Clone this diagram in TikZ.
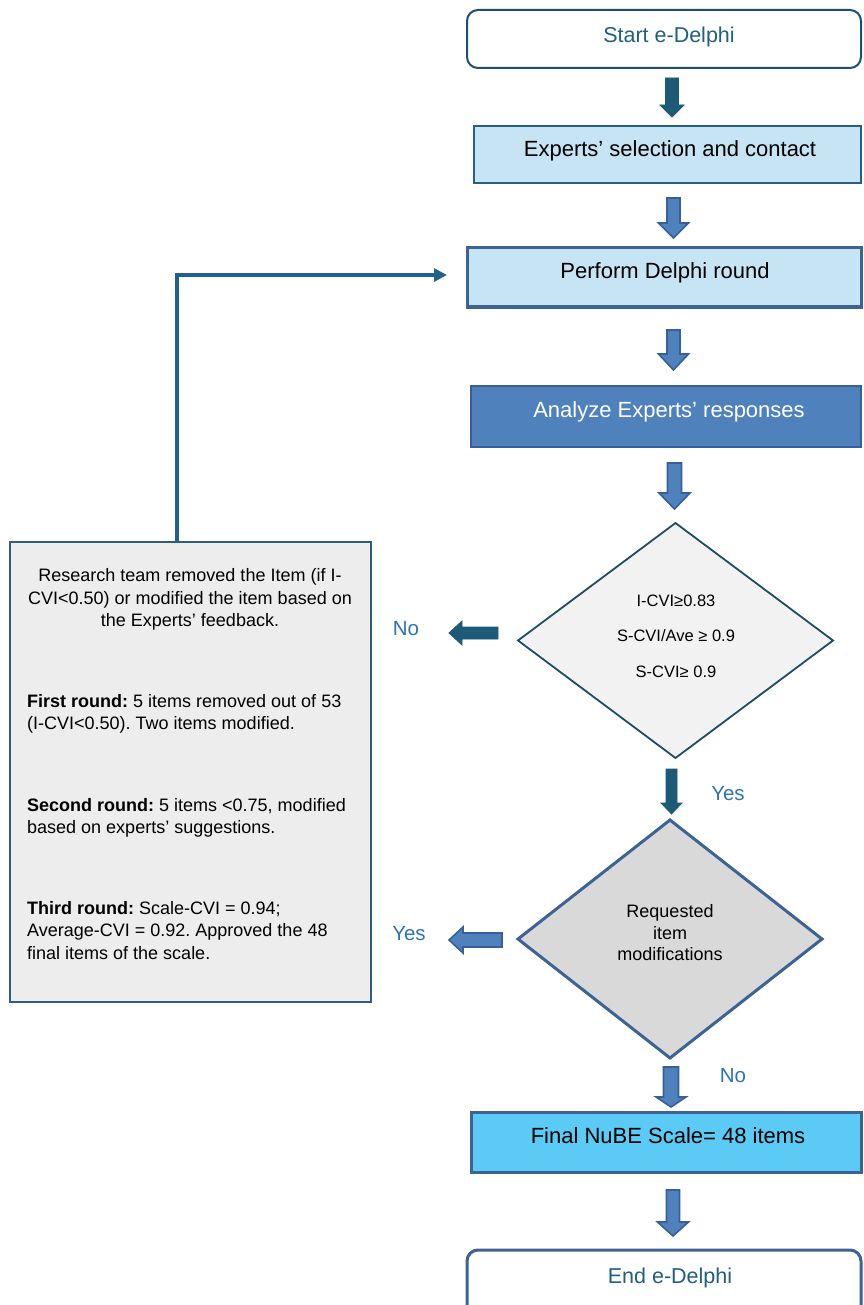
\documentclass[tikz,border=0pt]{standalone}
\usepackage{fontspec}
\setmainfont{Liberation Sans}
\usetikzlibrary{arrows.meta}
\definecolor{cTeal}{HTML}{1D5A78}
\definecolor{cTealLine}{HTML}{1F6388}
\definecolor{cBlueFill}{HTML}{4F81BD}
\definecolor{cBlueEdge}{HTML}{37609A}
\definecolor{cLightFill}{HTML}{C6E4F4}
\definecolor{cCyanFill}{HTML}{5BCBF5}
\definecolor{cStartEdge}{HTML}{1F4F6A}
\definecolor{cExpEdge}{HTML}{2B5D7C}
\definecolor{cPerfEdge}{HTML}{3C6393}
\definecolor{cLabel}{HTML}{2E74B5}
\definecolor{cStartText}{HTML}{1F5F7F}
\definecolor{cDiaOneFill}{HTML}{F2F2F2}
\definecolor{cDiaOneEdge}{HTML}{1E4D63}
\definecolor{cDiaTwoFill}{HTML}{D9D9D9}
\definecolor{cLeftFill}{HTML}{EDEDED}
\definecolor{cLeftEdge}{HTML}{2F5E78}

\newcommand\blkdown[7]{\draw[#7] (#1-#5,#2) -- (#1+#5,#2) -- (#1+#5,#3) -- (#1+#6,#3) -- (#1,#4) -- (#1-#6,#3) -- (#1-#5,#3) -- cycle;}
\newcommand\blkleft[7]{\draw[#7] (#2,#1-#5) -- (#2,#1+#5) -- (#3,#1+#5) -- (#3,#1+#6) -- (#4,#1) -- (#3,#1-#6) -- (#3,#1-#5) -- cycle;}
\frenchspacing

\begin{document}
\begin{tikzpicture}[x=1pt,y=-1pt,
  txt/.style={inner sep=0pt, anchor=base},
  boxtext/.style={txt, font=\fontsize{22}{26}\selectfont},
  lefttext/.style={txt, font=\fontsize{18}{22.5}\selectfont},
  lbltext/.style={txt, font=\fontsize{20.5}{24}\selectfont, text=cLabel},
  procbox/.style={rectangle, inner sep=0pt},
  tealarrow/.style={fill=cTeal, draw=cTeal, line width=0.8pt, line join=miter},
  bluearrow/.style={fill=cBlueFill, draw=cBlueEdge, line width=1.6pt, line join=miter},
]
\useasboundingbox (0,0) rectangle (863,1305);
\clip (0,0) rectangle (863,1305);
\fill[white] (0,0) rectangle (863,1305);

% boxes
\node[procbox, draw=cStartEdge, line width=2pt, rounded corners=11pt, minimum width=394pt, minimum height=58pt] (start) at (664,39) {};
\node[boxtext, text=cStartText, font=\fontsize{21.5}{26}\selectfont] (starttxt) at (669,43) {Start e-Delphi};

\node[procbox, draw=cExpEdge, fill=cLightFill, line width=2pt, minimum width=387pt, minimum height=57pt] (experts) at (667.5,154.5) {};
\node[boxtext] (expertstxt) at (670,157) {Experts’ selection and contact};

\node[procbox, draw=cPerfEdge, fill=cLightFill, line width=3pt, minimum width=394pt, minimum height=59pt] (perform) at (664,277.5) {};
\node[boxtext] (performtxt) at (665,279) {Perform Delphi round};

\node[procbox, draw=cBlueEdge, fill=cBlueFill, line width=2pt, minimum width=390pt, minimum height=61pt] (analyze) at (666,416.5) {};
\node[boxtext, text=white] (analyzetxt) at (669,417) {Analyze Experts’ responses};

\node[procbox, draw=cPerfEdge, fill=cCyanFill, line width=3pt, minimum width=390pt, minimum height=60pt] (final) at (666,1142) {};
\node[boxtext] (finaltxt) at (668,1143) {Final NuBE Scale= 48 items};

\node[procbox, draw=cPerfEdge, line width=3pt, rounded corners=11pt, minimum width=394pt, minimum height=70pt] (end) at (664,1285) {};
\node[boxtext, text=cStartText, font=\fontsize{21.5}{26}\selectfont] (endtxt) at (670,1283) {End e-Delphi};

% diamonds
\draw[fill=cDiaOneFill, draw=cDiaOneEdge, line width=1.8pt, line join=miter] (675.5,523) -- (833,640.5) -- (675.5,758) -- (518,640.5) -- cycle;
\coordinate (dia1) at (675.5,640.5);
\node[txt, font=\fontsize{16.5}{20}\selectfont] (d1a) at (676,606) {I-CVI≥0.83};
\node[txt, font=\fontsize{16.5}{20}\selectfont] (d1b) at (676,641) {S-CVI/Ave ≥ 0.9};
\node[txt, font=\fontsize{16.5}{20}\selectfont] (d1c) at (676,677) {S-CVI≥ 0.9};

\draw[fill=cDiaTwoFill, draw=cPerfEdge, line width=3pt, line join=miter] (670,820) -- (822,939) -- (670,1058) -- (518,939) -- cycle;
\coordinate (dia2) at (670,939);
\node[txt, font=\fontsize{18}{22}\selectfont] (d2a) at (670,917) {Requested};
\node[txt, font=\fontsize{18}{22}\selectfont] (d2b) at (670,939) {item};
\node[txt, font=\fontsize{18}{22}\selectfont] (d2c) at (670,960) {modifications};

% left box
\node[procbox, draw=cLeftEdge, fill=cLeftFill, line width=2.5pt, minimum width=361pt, minimum height=460pt] (lbox) at (190.5,772) {};
\node[lefttext] (l1) at (190,581) {Research team removed the Item (if I-};
\node[lefttext] (l2) at (190,604) {CVI<0.50) or modified the item based on};
\node[lefttext] (l3) at (190,626) {the Experts’ feedback.};
\node[lefttext, anchor=base west] (l4) at (27,707) {\textbf{First round:} 5 items removed out of 53};
\node[lefttext, anchor=base west] (l5) at (27,729) {(I-CVI<0.50). Two items modified.};
\node[lefttext, anchor=base west] (l6) at (27,811) {\textbf{Second round:} 5 items <0.75, modified};
\node[lefttext, anchor=base west] (l7) at (27,833) {based on experts’ suggestions.};
\node[lefttext, anchor=base west] (l8) at (27,914) {\textbf{Third round:} Scale-CVI = 0.94;};
\node[lefttext, anchor=base west] (l9) at (27,936) {Average-CVI = 0.92. Approved the 48};
\node[lefttext, anchor=base west] (l10) at (27,959) {final items of the scale.};

% feedback connector
\coordinate (fbtip) at (447,275);
\draw[cTealLine, line width=4pt, line join=miter, -{Triangle[length=13pt,width=13pt]}]
  ([xshift=-13.5pt]lbox.north) |- (fbtip);

% block arrows
\blkdown{672}{78}{105}{117}{6.5}{12}{tealarrow}
\blkdown{673.5}{198}{223}{238}{6.5}{15}{bluearrow}
\blkdown{673.5}{330}{354}{370}{6.5}{15}{bluearrow}
\blkdown{674.5}{463}{493}{509}{7}{15.5}{bluearrow}
\blkleft{633}{498}{462}{449}{6}{12}{tealarrow}
\blkdown{671.5}{769}{803}{814}{5.5}{10.5}{tealarrow}
\blkleft{940}{502}{463}{449}{7}{13}{bluearrow}
\blkdown{671}{1067}{1097}{1107}{7.5}{15}{bluearrow}
\blkdown{673}{1190}{1222}{1236}{6.5}{15.5}{bluearrow}

% labels
\node[lbltext] (no1) at (406,635) {No};
\node[lbltext] (yes1) at (728,800) {Yes};
\node[lbltext] (yes2) at (409,940) {Yes};
\node[lbltext] (no2) at (733,1082) {No};
\end{tikzpicture}
\end{document}
